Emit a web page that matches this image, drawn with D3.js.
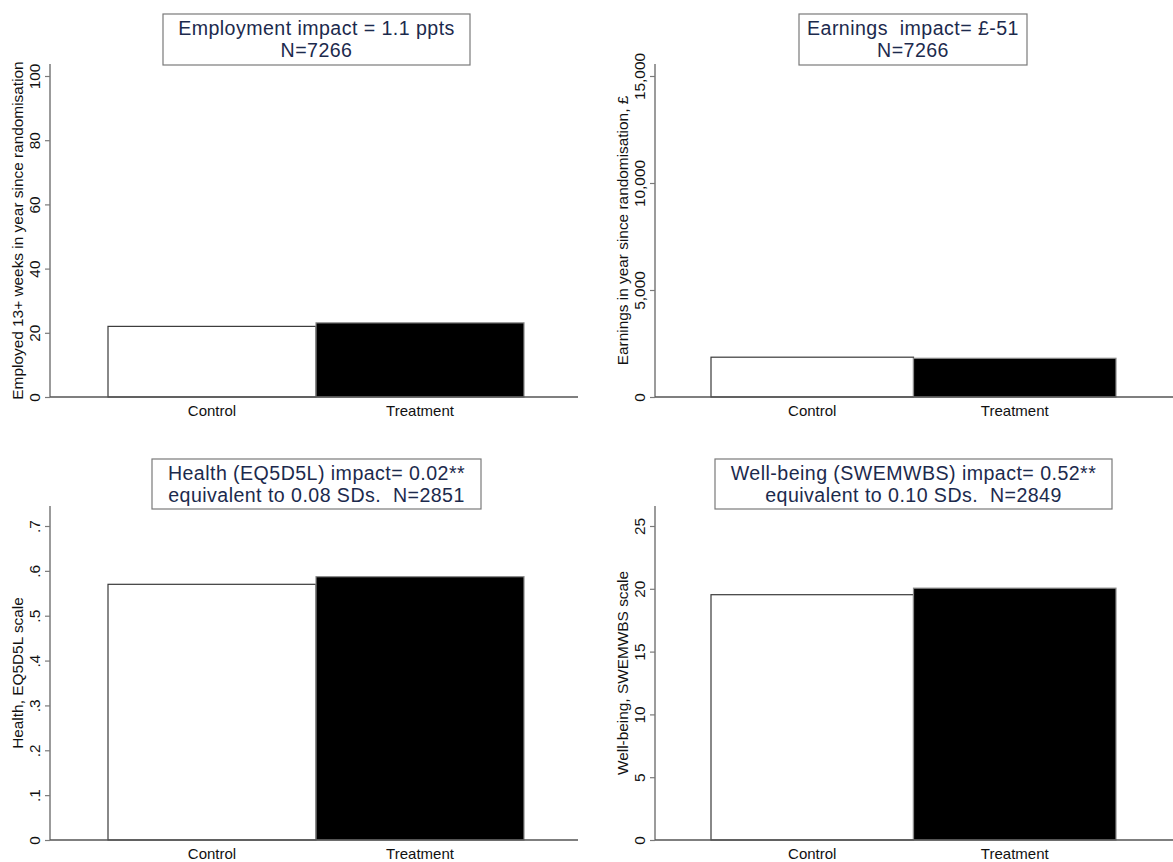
<!DOCTYPE html>
<html>
<head>
<meta charset="utf-8">
<script src="https://cdn.jsdelivr.net/npm/d3@7"></script>
<style>
  html, body { margin: 0; padding: 0; background: #fff; }
  svg { display: block; font-family: "Liberation Sans", Arial, sans-serif; }
  text { white-space: pre; }
</style>
</head>
<body>
<svg id="chart" width="1173" height="862"></svg>
<script>
// Group labels shared by all four panels
const categories = ["Control", "Treatment"];

// Mean outcome per group
const employmentValues = [22.0, 23.1];
const earningsValues = [1860, 1809];
const healthValues = [0.570, 0.587];
const wellbeingValues = [19.53, 20.05];

// Y-axis tick values
const employmentTicks = [0, 20, 40, 60, 80, 100];
const earningsTicks = [0, 5000, 10000, 15000];
const healthTicks = [0, 0.1, 0.2, 0.3, 0.4, 0.5, 0.6, 0.7];
const wellbeingTicks = [0, 5, 10, 15, 20, 25];

// Panel headings (two lines each) and y-axis titles
const employmentTitle = ["Employment impact = 1.1 ppts", "N=7266"];
const earningsTitle = ["Earnings  impact= \u00a3-51", "N=7266"];
const healthTitle = ["Health (EQ5D5L) impact= 0.02**", "equivalent to 0.08 SDs.  N=2851"];
const wellbeingTitle = ["Well-being (SWEMWBS) impact= 0.52**", "equivalent to 0.10 SDs.  N=2849"];

const employmentLabel = "Employed 13+ weeks in year since randomisation";
const earningsLabel = "Earnings in year since randomisation, \u00a3";
const healthLabel = "Health, EQ5D5L scale";
const wellbeingLabel = "Well-being, SWEMWBS scale";

const svg = d3.select("#chart");

const TITLE_COLOR = "#1c2a4d";
const AXIS_COLOR = "#7a7a7a";
const TEXT_COLOR = "#111";
const LABEL_SIZE = "15.4px";

function drawPanel(p) {
  const g = svg.append("g");

  const y = d3.scaleLinear().domain(p.domain).range([p.y0, p.yTop]);
  const x = d3.scaleBand().domain(categories).range([p.barLeft, p.barRight]).padding(0);

  // Bars
  g.selectAll("rect.bar")
    .data(categories.map((c, i) => ({ c, v: p.values[i] })))
    .join("rect")
    .attr("class", "bar")
    .attr("x", d => x(d.c))
    .attr("width", x.bandwidth())
    .attr("y", d => y(d.v))
    .attr("height", d => y(0) - y(d.v))
    .attr("fill", (d, i) => i === 0 ? "#fff" : "#000")
    .attr("stroke", (d, i) => i === 0 ? "#3a3a3a" : "#8a8a8a")
    .attr("stroke-width", 1.2);

  // Y axis
  const yAxis = d3.axisLeft(y)
    .tickValues(p.ticks)
    .tickFormat(p.format)
    .tickSize(5)
    .tickSizeOuter(0);
  const ya = g.append("g").attr("transform", `translate(${p.axisX},0)`).call(yAxis);
  ya.select(".domain").remove();
  ya.selectAll(".tick line").attr("stroke", AXIS_COLOR).attr("stroke-width", 1.2);
  ya.selectAll(".tick text")
    .attr("transform", "rotate(-90)")
    .attr("x", 0)
    .attr("y", -10)
    .attr("dy", 0)
    .attr("text-anchor", "middle")
    .attr("fill", TEXT_COLOR)
    .style("font-size", LABEL_SIZE)
    .style("font-family", "'Liberation Sans', Arial, sans-serif");

  // Axis lines
  g.append("line")
    .attr("x1", p.axisX).attr("x2", p.axisX)
    .attr("y1", p.axisTop).attr("y2", p.y0)
    .attr("stroke", AXIS_COLOR).attr("stroke-width", 1.5);
  g.append("line")
    .attr("x1", p.axisX).attr("x2", p.axisRight)
    .attr("y1", p.y0).attr("y2", p.y0)
    .attr("stroke", "#555").attr("stroke-width", 1.5);

  // Category labels
  g.selectAll("text.cat")
    .data(categories)
    .join("text")
    .attr("class", "cat")
    .attr("x", d => x(d) + x.bandwidth() / 2)
    .attr("y", p.y0 + 19)
    .attr("text-anchor", "middle")
    .attr("fill", TEXT_COLOR)
    .style("font-size", "15px")
    .text(d => d);

  // Y-axis title
  g.append("text")
    .attr("transform", `translate(${p.axisX - 27},${(p.y0 + p.axisTop) / 2}) rotate(-90)`)
    .attr("text-anchor", "middle")
    .attr("fill", TEXT_COLOR)
    .style("font-size", LABEL_SIZE)
    .text(p.label);

  // Boxed heading
  g.append("rect")
    .attr("x", p.box[0]).attr("y", p.box[1])
    .attr("width", p.box[2] - p.box[0]).attr("height", p.box[3] - p.box[1])
    .attr("fill", "#fff").attr("stroke", "#7a7a7a").attr("stroke-width", 1.2);
  const cx = (p.box[0] + p.box[2]) / 2;
  g.selectAll("text.ttl")
    .data(p.title)
    .join("text")
    .attr("class", "ttl")
    .attr("x", cx)
    .attr("y", (d, i) => p.box[1] + 21 + i * 22)
    .attr("text-anchor", "middle")
    .attr("fill", TITLE_COLOR)
    .style("font-size", "19.6px")
    .style("letter-spacing", "0.45px")
    .text(d => d);
}

const fmtInt = d3.format(",");
const fmtDec = d => d === 0 ? "0" : d3.format(".1f")(d).replace(/^0/, "");

drawPanel({
  values: employmentValues, ticks: employmentTicks, domain: [0, 100], format: fmtInt,
  axisX: 50, axisTop: 64, axisRight: 578, y0: 397, yTop: 76,
  barLeft: 108, barRight: 524, label: employmentLabel, title: employmentTitle,
  box: [163, 14, 470, 65]
});
drawPanel({
  values: earningsValues, ticks: earningsTicks, domain: [0, 15000], format: fmtInt,
  axisX: 655, axisTop: 64, axisRight: 1173, y0: 397, yTop: 76,
  barLeft: 711, barRight: 1116, label: earningsLabel, title: earningsTitle,
  box: [799, 14, 1027, 65]
});
drawPanel({
  values: healthValues, ticks: healthTicks, domain: [0, 0.7], format: fmtDec,
  axisX: 50, axisTop: 506, axisRight: 578, y0: 840, yTop: 526,
  barLeft: 108, barRight: 524, label: healthLabel, title: healthTitle,
  box: [152, 459, 481, 509]
});
drawPanel({
  values: wellbeingValues, ticks: wellbeingTicks, domain: [0, 25], format: fmtInt,
  axisX: 655, axisTop: 506, axisRight: 1173, y0: 840, yTop: 526,
  barLeft: 711, barRight: 1116, label: wellbeingLabel, title: wellbeingTitle,
  box: [715, 459, 1112, 509]
});
</script>
</body>
</html>
